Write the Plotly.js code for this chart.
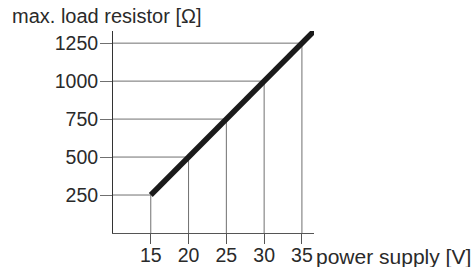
<!DOCTYPE html>
<html>
<head>
<meta charset="utf-8">
<script src="https://cdn.plot.ly/plotly-3.0.1.min.js"></script>
<style>html,body{margin:0;padding:0;background:#fff;}#chart{width:473px;height:267px;}</style>
</head>
<body>
<div id="chart"></div>
<script>
// Data
const supplyVoltage = [15, 20, 25, 30, 35];          // guide points (V)
const loadResistor  = [250, 500, 750, 1000, 1250];   // guide points (Ohm)
const lineVoltage   = [15, 36.6];                    // characteristic line (V)
const lineResistor  = [250, 1330];                   // characteristic line (Ohm)
const xTickVals = [15, 20, 25, 30, 35];
const yTickVals = [250, 500, 750, 1000, 1250];
const xRange = [10, 36.6];
const yRange = [0, 1330];
const xTitle = 'power supply [V]';
const yTitle = 'max. load resistor [Ω]';

const FONT = 'Liberation Sans, Arial, sans-serif';
const TXT = '#2a2a2a';
const traces = [];
const gx = [], gy = [];
for (let i = 0; i < supplyVoltage.length; i++) {
  gx.push(xRange[0], supplyVoltage[i], supplyVoltage[i], null);
  gy.push(loadResistor[i], loadResistor[i], yRange[0], null);
}
traces.push({x: gx, y: gy, mode: 'lines', line: {color: '#707070', width: 1}, hoverinfo: 'skip', cliponaxis: false});
traces.push({x: lineVoltage, y: lineResistor, mode: 'lines', line: {color: '#1a1a1a', width: 5.5}, cliponaxis: false});

const layout = {
  width: 473, height: 267,
  margin: {l: 113, r: 159, t: 31, b: 34},
  paper_bgcolor: '#fff', plot_bgcolor: '#fff',
  showlegend: false,
  font: {family: FONT, size: 20, color: TXT},
  xaxis: {
    range: xRange, tickvals: xTickVals, ticktext: xTickVals.map(String),
    showgrid: false, zeroline: false, showline: true, linecolor: '#555', linewidth: 1,
    ticks: 'outside', ticklen: 10, tickcolor: '#555', tickwidth: 1, ticklabelstandoff: -5,
    tickfont: {family: FONT, size: 19.5, color: TXT}, fixedrange: true
  },
  yaxis: {
    range: yRange, tickvals: yTickVals, ticktext: yTickVals.map(String),
    showgrid: false, zeroline: false, showline: true, linecolor: '#333', linewidth: 1,
    ticks: 'outside', ticklen: 12, tickcolor: '#707070', tickwidth: 1, ticklabelstandoff: -2,
    tickfont: {family: FONT, size: 19.5, color: TXT}, fixedrange: true
  },
  annotations: [
    {text: yTitle, xref: 'paper', yref: 'paper', x: -0.51, y: 1.0, yshift: 2, xanchor: 'left', yanchor: 'bottom',
     showarrow: false, font: {family: FONT, size: 20, color: TXT}},
    {text: xTitle, xref: 'paper', yref: 'paper', x: 1.0, xshift: 0, y: 0, yshift: -23, xanchor: 'left', yanchor: 'middle',
     showarrow: false, font: {family: FONT, size: 21, color: TXT}}
  ]
};
Plotly.newPlot('chart', traces, layout, {displayModeBar: false, staticPlot: true});
</script>
</body>
</html>
